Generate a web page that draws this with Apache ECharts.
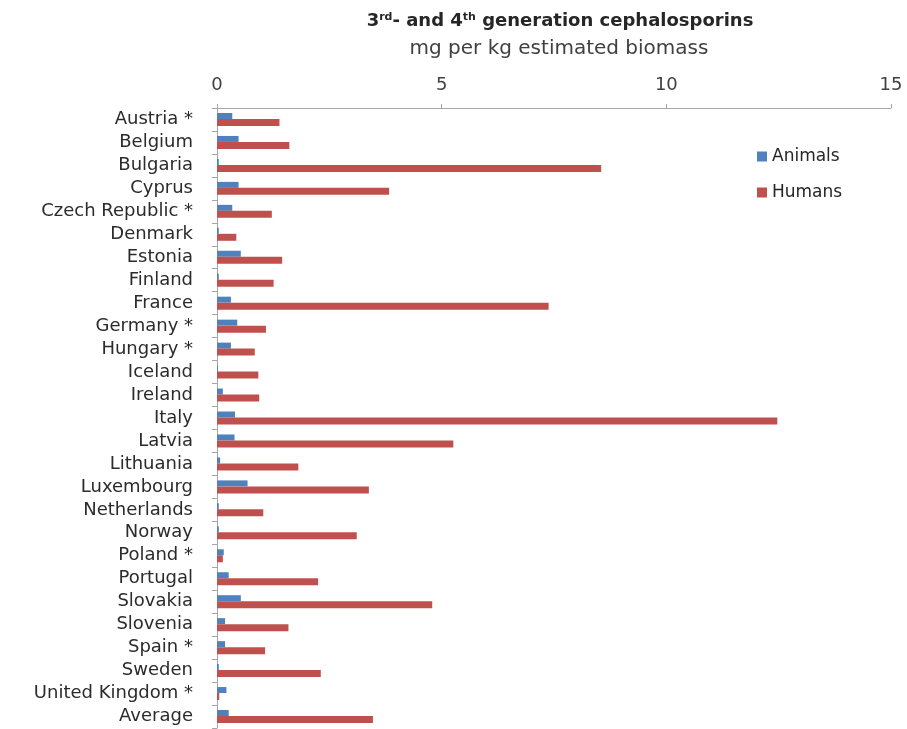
<!DOCTYPE html>
<html>
<head>
<meta charset="utf-8">
<script src="https://cdn.jsdelivr.net/npm/echarts@6/dist/echarts.min.js"></script>
<style>html,body{margin:0;padding:0;background:#fff}#c{width:907px;height:729px}</style>
</head>
<body>
<div id="c"></div>
<script>
const categories = ["Austria *","Belgium","Bulgaria","Cyprus","Czech Republic *","Denmark","Estonia","Finland","France","Germany *","Hungary *","Iceland","Ireland","Italy","Latvia","Lithuania","Luxembourg","Netherlands","Norway","Poland *","Portugal","Slovakia","Slovenia","Spain *","Sweden","United Kingdom *","Average"];
const animals = [0.34,0.48,0.04,0.48,0.34,0.04,0.53,0.04,0.31,0.45,0.31,0.02,0.13,0.40,0.39,0.07,0.68,0.04,0.04,0.15,0.26,0.53,0.18,0.18,0.04,0.21,0.26];
const humans  = [1.39,1.61,8.55,3.83,1.22,0.43,1.45,1.26,7.38,1.09,0.84,0.92,0.94,12.47,5.26,1.81,3.38,1.03,3.11,0.13,2.25,4.79,1.59,1.07,2.31,0.05,3.47];
const xTicks = [0,5,10,15];

const chart = echarts.init(document.getElementById('c'));
const font = '"DejaVu Sans", sans-serif';
chart.setOption({
  animation: false,
  title: [{
    text: '{n|3}{s|rd}{n|- and 4}{s|th}{n| generation cephalosporins}',
    left: 555, top: 7, textAlign: 'center',
    textStyle: { rich: {
      n: { fontFamily: font, fontSize: 18, fontWeight: 'bold', color: '#262626' },
      s: { fontFamily: font, fontSize: 11, fontWeight: 'bold', color: '#262626', verticalAlign: 'top', lineHeight: 14 }
    }}
  },{
    text: 'mg per kg estimated biomass',
    left: 554, top: 34, textAlign: 'center',
    textStyle: { fontFamily: font, fontSize: 20, fontWeight: 'normal', color: '#404040' }
  }],
  legend: {
    data: ['Animals','Humans'], orient: 'vertical', left: 752, top: 143, icon: 'rect',
    itemWidth: 10, itemHeight: 10, itemGap: 19,
    textStyle: { fontFamily: font, fontSize: 17, color: '#262626' }
  },
  grid: { left: 217, right: 16, top: 108, bottom: 1, containLabel: false },
  xAxis: {
    type: 'value', position: 'top', min: xTicks[0], max: xTicks[xTicks.length-1], interval: 5,
    axisLine: { show: true, lineStyle: { color: '#a6a6a6' } },
    axisTick: { show: true, length: 4, lineStyle: { color: '#a6a6a6' } },
    splitLine: { show: false },
    axisLabel: { fontFamily: font, fontSize: 18, color: '#404040', margin: 14 }
  },
  yAxis: {
    type: 'category', data: categories, inverse: true,
    axisLine: { show: true, lineStyle: { color: '#a6a6a6' } },
    axisTick: { show: true, length: 5, lineStyle: { color: '#a6a6a6' } },
    axisLabel: { fontFamily: font, fontSize: 18, color: '#2b2b2b', margin: 24, interval: 0 }
  },
  series: [{
    name: 'Animals', type: 'bar', data: animals, barWidth: 6, barGap: '0%',
    itemStyle: { color: '#4F81BD' }
  },{
    name: 'Humans', type: 'bar', data: humans, barWidth: 7, barGap: '0%',
    itemStyle: { color: '#C0504D' }
  }]
});
</script>
</body>
</html>
